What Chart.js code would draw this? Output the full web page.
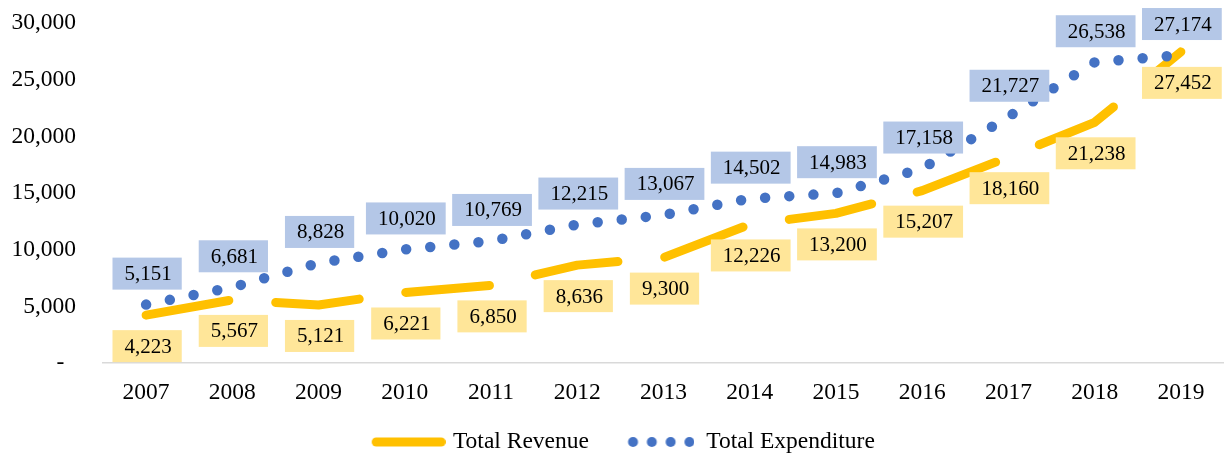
<!DOCTYPE html>
<html>
<head>
<meta charset="utf-8">
<script src="https://cdn.jsdelivr.net/npm/chart.js@4.4.1/dist/chart.umd.min.js"></script>
<style>
  html, body { margin: 0; padding: 0; background: #ffffff; }
  #wrap { width: 1224px; height: 456px; }
</style>
</head>
<body>
<div id="wrap"><canvas id="c" width="1224" height="456"></canvas></div>
<script>
const years = ['2007','2008','2009','2010','2011','2012','2013','2014','2015','2016','2017','2018','2019'];
const totalRevenue = [4223, 5567, 5121, 6221, 6850, 8636, 9300, 12226, 13200, 15207, 18160, 21238, 27452];
const totalExpenditure = [5151, 6681, 8828, 10020, 10769, 12215, 13067, 14502, 14983, 17158, 21727, 26538, 27174];
const seriesNames = ['Total Revenue', 'Total Expenditure'];
const yMin = 0, yMax = 30000, yStep = 5000;

const FONT = "'Liberation Serif', 'Times New Roman', serif";
Chart.defaults.font.family = FONT;
Chart.defaults.color = '#000000';

const YELLOW = '#FFC000', BLUE = '#4472C4';
const YELLOW_BOX = '#FFE699', BLUE_BOX = '#B4C7E7';

// legend sample images
const LEG_W = 92;
function revenueSample() {
  const c = document.createElement('canvas');
  c.width = LEG_W + 9; c.height = 12;
  const g = c.getContext('2d');
  g.strokeStyle = YELLOW; g.lineWidth = 9; g.lineCap = 'round';
  g.beginPath(); g.moveTo(c.width - 74 + 4.5, 6); g.lineTo(c.width - 4.5, 6); g.stroke();
  return c;
}
function expenditureSample() {
  const c = document.createElement('canvas');
  c.width = LEG_W; c.height = 12;
  const g = c.getContext('2d');
  g.fillStyle = BLUE;
  [30.6, 49.4, 68.2, 87].forEach(cx => { g.beginPath(); g.arc(cx, 6, 5, 0, Math.PI * 2); g.fill(); });
  return c;
}
const legendImages = [revenueSample(), expenditureSample()];

const labelPlugin = {
  id: 'boxLabels',
  afterDatasetsDraw(chart) {
    const ctx = chart.ctx;
    ctx.save();
    ctx.font = "21px " + FONT;
    ctx.textAlign = 'center';
    ctx.textBaseline = 'middle';
    const cfg = [
      { bg: YELLOW_BOX, dy: 31 },
      { bg: BLUE_BOX, dy: -31 }
    ];
    chart.data.datasets.forEach((ds, di) => {
      const meta = chart.getDatasetMeta(di);
      meta.data.forEach((pt, i) => {
        const text = ds.data[i].toLocaleString('en-US');
        const w = ctx.measureText(text).width + 22;
        const h = 32;
        const cx = pt.x + 1;
        const cy = pt.y + cfg[di].dy;
        ctx.fillStyle = cfg[di].bg;
        ctx.fillRect(cx - w / 2, cy - h / 2, w, h);
        ctx.fillStyle = '#000000';
        ctx.fillText(text, cx + 1, cy + 1);
      });
    });
    ctx.restore();
  }
};

new Chart(document.getElementById('c'), {
  type: 'line',
  data: {
    labels: years,
    datasets: [
      {
        label: seriesNames[0],
        data: totalRevenue,
        borderColor: YELLOW,
        backgroundColor: YELLOW,
        borderWidth: 9,
        borderDash: [84, 47],
        borderCapStyle: 'round',
        borderJoinStyle: 'round',
        pointRadius: 0,
        pointHoverRadius: 0,
        tension: 0,
        fill: false,
        order: 1
      },
      {
        label: seriesNames[1],
        data: totalExpenditure,
        borderColor: BLUE,
        backgroundColor: BLUE,
        borderWidth: 10.5,
        borderDash: [0, 24.2],
        borderCapStyle: 'round',
        borderJoinStyle: 'round',
        pointRadius: 0,
        pointHoverRadius: 0,
        tension: 0,
        fill: false,
        order: 0
      }
    ]
  },
  options: {
    responsive: false,
    animation: false,
    devicePixelRatio: 1,
    layout: { padding: { top: 23, left: 0, right: 0, bottom: 0 } },
    plugins: {
      tooltip: { enabled: false },
      legend: {
        position: 'bottom',
        maxHeight: 39.25,
        labels: {
          usePointStyle: true,
          pointStyleWidth: LEG_W,
          padding: 13.5,
          color: '#000000',
          font: { size: 23.5, family: FONT },
          sort: (a, b) => a.datasetIndex - b.datasetIndex,
          generateLabels: (chart) => {
            const items = Chart.defaults.plugins.legend.labels.generateLabels(chart);
            items.forEach(it => { it.pointStyle = legendImages[it.datasetIndex]; });
            return items;
          }
        }
      }
    },
    scales: {
      x: {
        offset: true,
        grid: { display: false, drawTicks: false },
        border: { display: true, color: '#D9D9D9', width: 1.5 },
        ticks: { padding: 16, autoSkip: false, maxRotation: 0, color: '#000000', font: { size: 23.5, family: FONT } },
        afterFit: (s) => { s.height = 53.75; }
      },
      y: {
        min: yMin,
        max: yMax,
        grid: { display: false, drawTicks: true, tickLength: 27 },
        border: { display: false },
        ticks: {
          stepSize: yStep,
          padding: 0,
          color: '#000000',
          font: { size: 23.5, family: FONT },
          callback: (v) => v === 0 ? '-  ' : Number(v).toLocaleString('en-US')
        },
        afterFit: (s) => { s.width = 103; }
      }
    }
  },
  plugins: [labelPlugin]
});
</script>
</body>
</html>
